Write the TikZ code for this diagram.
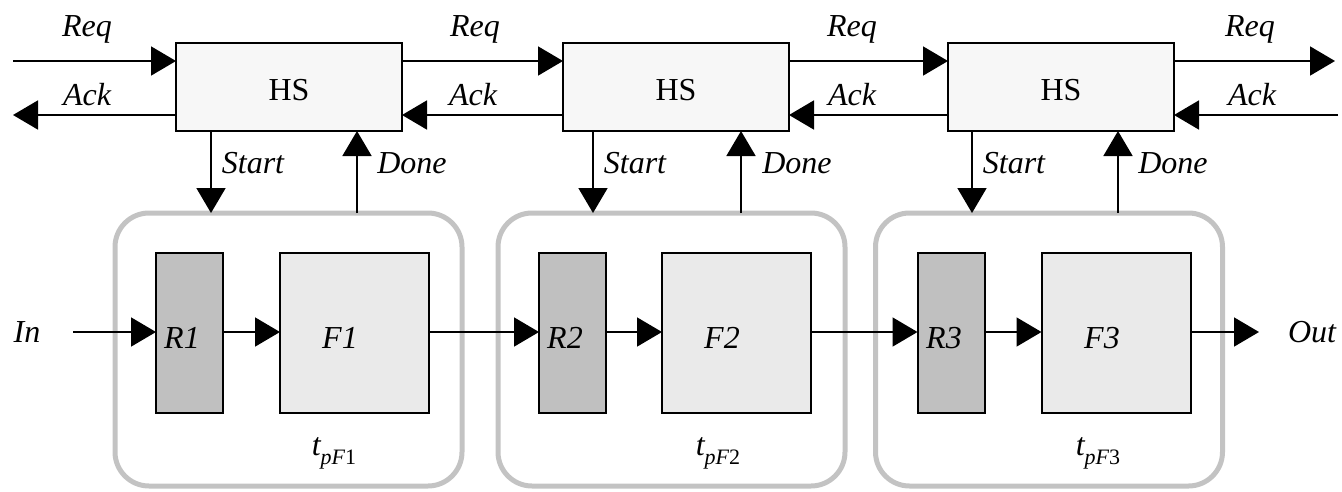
\documentclass[tikz,border=0pt]{standalone}
\usepackage{fontspec}
\setmainfont{Liberation Serif}
\usetikzlibrary{arrows.meta}
\definecolor{hsfill}{HTML}{F7F7F7}
\definecolor{regfill}{HTML}{C0C0C0}
\definecolor{ffill}{HTML}{EAEAEA}
\definecolor{stagegray}{HTML}{C3C3C3}
\begin{document}
\begin{tikzpicture}[x=1pt,y=-1pt,
  every node/.style={font=\fontsize{32}{36}\selectfont, inner sep=0pt, outer sep=0pt},
  txt/.style={anchor=base},
  hsbox/.style={draw, line width=2pt, fill=hsfill, minimum width=226pt, minimum height=88pt},
  regbox/.style={draw, line width=2pt, fill=regfill, minimum width=67pt, minimum height=160pt},
  fbox/.style={draw, line width=2pt, fill=ffill, minimum width=149pt, minimum height=160pt},
  stagebox/.style={draw=stagegray, line width=5pt, rounded corners=34pt, minimum width=347pt, minimum height=273pt},
  arr/.style={line width=1.8pt, -{Triangle[length=25pt,width=29pt]}}
]
\useasboundingbox (0,0) rectangle (1342,491);

% stages
\node[stagebox] (st1) at (288.5,349.5) {};
\node[stagebox] (st2) at (671.5,349.5) {};
\node[stagebox] (st3) at (1049,349.5) {};

% handshake boxes
\node[hsbox] (hs1) at (289,87) {};
\node[hsbox] (hs2) at (676,87) {};
\node[hsbox] (hs3) at (1061,87) {};
\node[txt] (hs1t) at (289,100) {HS};
\node[txt] (hs2t) at (676,100) {HS};
\node[txt] (hs3t) at (1061,100) {HS};

% registers and functions
\node[regbox] (r1) at (189.5,333) {};
\node[fbox]   (f1) at (354.5,333) {};
\node[regbox] (r2) at (572.5,333) {};
\node[fbox]   (f2) at (736.5,333) {};
\node[regbox] (r3) at (951,333) {};
\node[fbox]   (f3) at (1116,333) {};

\node[txt] (r1t) at (182,348) {\itshape R1};
\node[txt] (f1t) at (340,348) {\itshape F1};
\node[txt] (r2t) at (565,348) {\itshape R2};
\node[txt] (f2t) at (722,348) {\itshape F2};
\node[txt] (r3t) at (944,348) {\itshape R3};
\node[txt] (f3t) at (1102,348) {\itshape F3};

\node[txt] (tp1) at (334,455) {\itshape t\raisebox{-0.3em}{\fontsize{22}{22}\selectfont pF\upshape 1}};
\node[txt] (tp2) at (718,455) {\itshape t\raisebox{-0.3em}{\fontsize{22}{22}\selectfont pF\upshape 2}};
\node[txt] (tp3) at (1098,455) {\itshape t\raisebox{-0.3em}{\fontsize{22}{22}\selectfont pF\upshape 3}};

% free ends
\coordinate (reqL) at (13,61);
\coordinate (ackL) at (13,115);
\coordinate (reqR) at (1335,61);
\coordinate (ackR) at (1338,115);
\coordinate (inL) at (73,332);
\coordinate (outR) at (1259,332);

% Req / Ack
\draw[arr] (reqL) -- (hs1.west |- reqL);
\draw[arr] (hs1.west |- ackL) -- (ackL);
\draw[arr] (hs1.east |- reqL) -- (hs2.west |- reqL);
\draw[arr] (hs2.west |- ackL) -- (hs1.east |- ackL);
\draw[arr] (hs2.east |- reqL) -- (hs3.west |- reqL);
\draw[arr] (hs3.west |- ackL) -- (hs2.east |- ackL);
\draw[arr] (hs3.east |- reqR) -- (reqR);
\draw[arr] (ackR) -- (hs3.east |- ackR);

\node[txt] (req1) at (87,36) {\itshape Req};
\node[txt] (ack1) at (87,105) {\itshape Ack};
\node[txt] (req2) at (475,36) {\itshape Req};
\node[txt] (ack2) at (473,105) {\itshape Ack};
\node[txt] (req3) at (852,36) {\itshape Req};
\node[txt] (ack3) at (852,105) {\itshape Ack};
\node[txt] (req4) at (1250,36) {\itshape Req};
\node[txt] (ack4) at (1252,105) {\itshape Ack};

% Start / Done
\draw[arr] (hs1.south -| 211,0) -- (st1.north -| 211,0);
\draw[arr] (st1.north -| 357,0) -- (hs1.south -| 357,0);
\draw[arr] (hs2.south -| 593,0) -- (st2.north -| 593,0);
\draw[arr] (st2.north -| 741,0) -- (hs2.south -| 741,0);
\draw[arr] (hs3.south -| 972,0) -- (st3.north -| 972,0);
\draw[arr] (st3.north -| 1118,0) -- (hs3.south -| 1118,0);

\node[txt] (start1) at (253,173) {\itshape Start};
\node[txt] (done1) at (412,173) {\itshape Done};
\node[txt] (start2) at (635,173) {\itshape Start};
\node[txt] (done2) at (797,173) {\itshape Done};
\node[txt] (start3) at (1014,173) {\itshape Start};
\node[txt] (done3) at (1173,173) {\itshape Done};

% data path
\draw[arr] (inL) -- (r1.west |- inL);
\draw[arr] (r1.east |- inL) -- (f1.west |- inL);
\draw[arr] (f1.east |- inL) -- (r2.west |- inL);
\draw[arr] (r2.east |- inL) -- (f2.west |- inL);
\draw[arr] (f2.east |- inL) -- (r3.west |- inL);
\draw[arr] (r3.east |- inL) -- (f3.west |- inL);
\draw[arr] (f3.east |- outR) -- (outR);

\node[txt] (inT) at (27,342) {\itshape In};
\node[txt] (outT) at (1312,342) {\itshape Out};
\end{tikzpicture}
\end{document}
